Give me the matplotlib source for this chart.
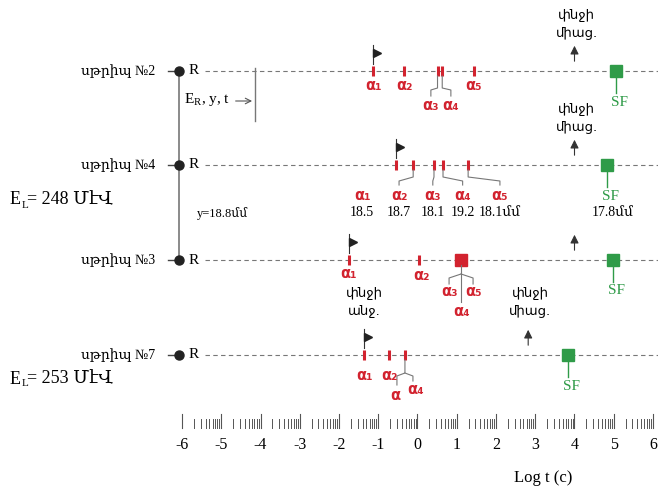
import matplotlib.pyplot as plt
import numpy as np

plt.rcParams['font.family'] = ['Liberation Serif', 'DejaVu Serif', 'DejaVu Sans']

# strips, top to bottom
strips = ["սթրիպ №2", "սթրիպ №4", "սթրիպ №3", "սթրիպ №7"]
# log t (s) of alpha signals in each strip
alpha_t = [
    [-1.13, -0.34, 0.51, 0.63, 1.44],
    [-0.55, -0.11, 0.42, 0.65, 1.29],
    [-1.75, 0.04],
    [-1.36, -0.73, -0.32],
]
merged_t = [None, None, 1.11, None]    # alpha3-5 merged into one (strip 3)
sf_t = [5.06, 4.83, 4.99, 3.84]         # spontaneous fission
beam_on_t = [4.0, 4.0, 4.0, 2.82]       # beam switched on
beam_off_t = [-1.13, -0.55, -1.75, -1.36]  # beam switched off
alpha_pos = ["18.5", "18.7", "18.1", "19.2", "18.1մմ"]
sf_pos = "17.8մմ"
energies = ["248", "253"]
xticks = np.arange(-6, 7)

RED = "#d2232f"
GREEN = "#2f9b48"
GREY = "#777777"

W, H = 658, 487
s = (653 - 182) / 12.0
x0 = -6 - 182 / s
x1 = x0 + W / s

fig = plt.figure(figsize=(W / 100, H / 100), dpi=100)
ax = fig.add_axes([0, 0, 1, 1])
ax.set_xlim(x0, x1)
ax.set_ylim(H, 0)
ax.axis("off")


def p(px):
    # pixel offset -> log t units
    return px / s


row_y = [71, 165, 260, 355]
xr = -6.08

# strip baselines
for name, y in zip(strips, row_y):
    ax.text(xr - p(24), y, name, ha="right", va="center", fontsize=10)
    ax.plot([xr - p(11), xr], [y, y], color="#444444", lw=1)
    ax.plot(xr, y, "o", color="#222222", ms=6.5)
    ax.text(xr + p(10), y, "R", ha="left", va="center", fontsize=11)
    ax.plot([xr + p(26), x1], [y, y], color=GREY, lw=0.8, ls=(0, (4, 3)))

ax.plot([xr, xr], [row_y[0], row_y[2]], color=GREY, lw=1.2, zorder=0)

# E_R, y, t annotation
xv = xr + p(76)
ax.plot([xv, xv], [row_y[0] - 3, row_y[0] + 50], color=GREY, lw=1)
ax.text(xr + p(5), 100, r"E$_\mathregular{R}$, y, t", ha="left", va="center", fontsize=11)
ax.annotate("", xy=(xv, 101), xytext=(xv - p(22), 101),
            arrowprops=dict(arrowstyle="->", color="#555555", lw=0.8))
ax.text(xr + p(18), 214, "y=18.8մմ", ha="left", va="center", fontsize=9)

for e, ye in zip(energies, [200, 379]):
    ax.text(-10.4, ye, "E", ha="left", va="center", fontsize=13)
    ax.text(-10.4 + p(12), ye + 5, "L", ha="left", va="center", fontsize=8)
    ax.text(-10.4 + p(18), ye, "= " + e + " ՄէՎ", ha="left", va="center", fontsize=13)

sub = "₁₂₃₄₅"
afont = dict(color=RED, fontsize=10.5, fontweight="bold", family="DejaVu Sans",
             ha="center", va="center")

for i, y in enumerate(row_y):
    ts = alpha_t[i]
    for t in ts:
        ax.plot([t, t], [y - 5, y + 5], color=RED, lw=2.2, solid_capstyle="butt")
    if merged_t[i] is not None:
        ax.plot(merged_t[i], y, "s", color=RED, ms=8.5)
    # beam off flag
    bx = beam_off_t[i]
    ax.plot([bx, bx], [y - 26, y - 7], color="#333333", lw=0.8)
    ax.plot(bx + p(4), y - 18, ">", color="#222222", ms=6)
    # beam on arrow
    ax.annotate("", xy=(beam_on_t[i], y - 28), xytext=(beam_on_t[i], y - 7),
                arrowprops=dict(arrowstyle="-|>,head_width=0.25,head_length=0.5",
                                color="#333333", lw=0.8))
    # SF
    ax.plot([sf_t[i], sf_t[i]], [y, y + 22], color=GREEN, lw=1)
    ax.plot(sf_t[i], y, "s", color=GREEN, ms=8)
    ax.text(sf_t[i] + p(3), y + 31, "SF", color=GREEN, ha="center", va="center", fontsize=11)

# beam labels
for t, yt in [(beam_on_t[0], 24), (beam_on_t[1], 118), (beam_on_t[3], 302)]:
    ax.text(t + p(2), yt, "փնջի\nմիաց.", ha="center", va="center", fontsize=9.5,
            family="DejaVu Sans", linespacing=1.5)
ax.text(beam_off_t[3], 302, "փնջի\nանջ.", ha="center", va="center", fontsize=9.5,
        family="DejaVu Sans", linespacing=1.5)

# strip 2 labels
y = row_y[0]
t2 = alpha_t[0]
for k in [0, 1, 4]:
    ax.text(t2[k], y + 14, "α" + sub[k], **afont)
for k, dx in [(2, -9), (3, 11)]:
    lx = (t2[2] + t2[3]) / 2 + p(dx)
    ax.plot([t2[k], t2[k], lx, lx], [y + 5, y + 17, y + 19, y + 25], color=GREY, lw=0.8)
    ax.text(lx, y + 34, "α" + sub[k], **afont)

# strip 4 labels
y = row_y[1]
t4 = alpha_t[1]
lab4 = [-1.41, -0.47, 0.39, 1.15, 2.10]
for k in range(5):
    if k > 0:
        ax.plot([t4[k], t4[k], lab4[k], lab4[k]], [y + 5, y + 12, y + 16, y + 20],
                color=GREY, lw=0.8)
    ax.text(lab4[k], y + 30, "α" + sub[k], **afont)
    ax.text(lab4[k], y + 48, alpha_pos[k], ha="center", va="center", fontsize=10)
ax.text(sf_t[1] + p(6), y + 48, sf_pos, ha="center", va="center", fontsize=10)

# strip 3 labels
y = row_y[2]
t3 = alpha_t[2]
ax.text(t3[0], y + 14, "α" + sub[0], **afont)
ax.text(t3[1] + p(2), y + 16, "α" + sub[1], **afont)
m = merged_t[2]
ax.plot([m, m], [y + 5, y + 42], color=GREY, lw=0.8)
for k, dx in [(2, -12), (4, 12)]:
    ax.plot([m, m + p(dx), m + p(dx)], [y + 14, y + 18, y + 24], color=GREY, lw=0.8)
    ax.text(m + p(dx), y + 32, "α" + sub[k], **afont)
ax.text(m, y + 51, "α" + sub[3], **afont)

# strip 7 labels
y = row_y[3]
t7 = alpha_t[3]
ax.text(t7[0], y + 20, "α" + sub[0], **afont)
ax.text(t7[1] + p(1), y + 20, "α" + sub[1], **afont)
ax.plot([t7[2], t7[2], t7[2] - p(8), t7[2] - p(8)], [y + 5, y + 18, y + 21, y + 30],
        color=GREY, lw=0.8)
ax.plot([t7[2], t7[2] + p(8), t7[2] + p(8)], [y + 18, y + 21, y + 26], color=GREY, lw=0.8)
ax.text(t7[2] - p(10), y + 40, "α", **afont)
ax.text(t7[2] + p(11), y + 34, "α" + sub[3], **afont)

# log time scale
for n in xticks:
    ax.plot([n, n], [414, 428], color="#555555", lw=0.8)
    ax.text(n, 445, f"{n}", ha="center", va="center", fontsize=11.5)
    if n < xticks[-1]:
        for k in range(2, 10):
            xm = n + np.log10(k)
            ax.plot([xm, xm], [419, 428], color="#555555", lw=0.7)
ax.text(3.2, 478, "Log t (c)", ha="center", va="center", fontsize=12)

fig.savefig("out.png", dpi=100)
